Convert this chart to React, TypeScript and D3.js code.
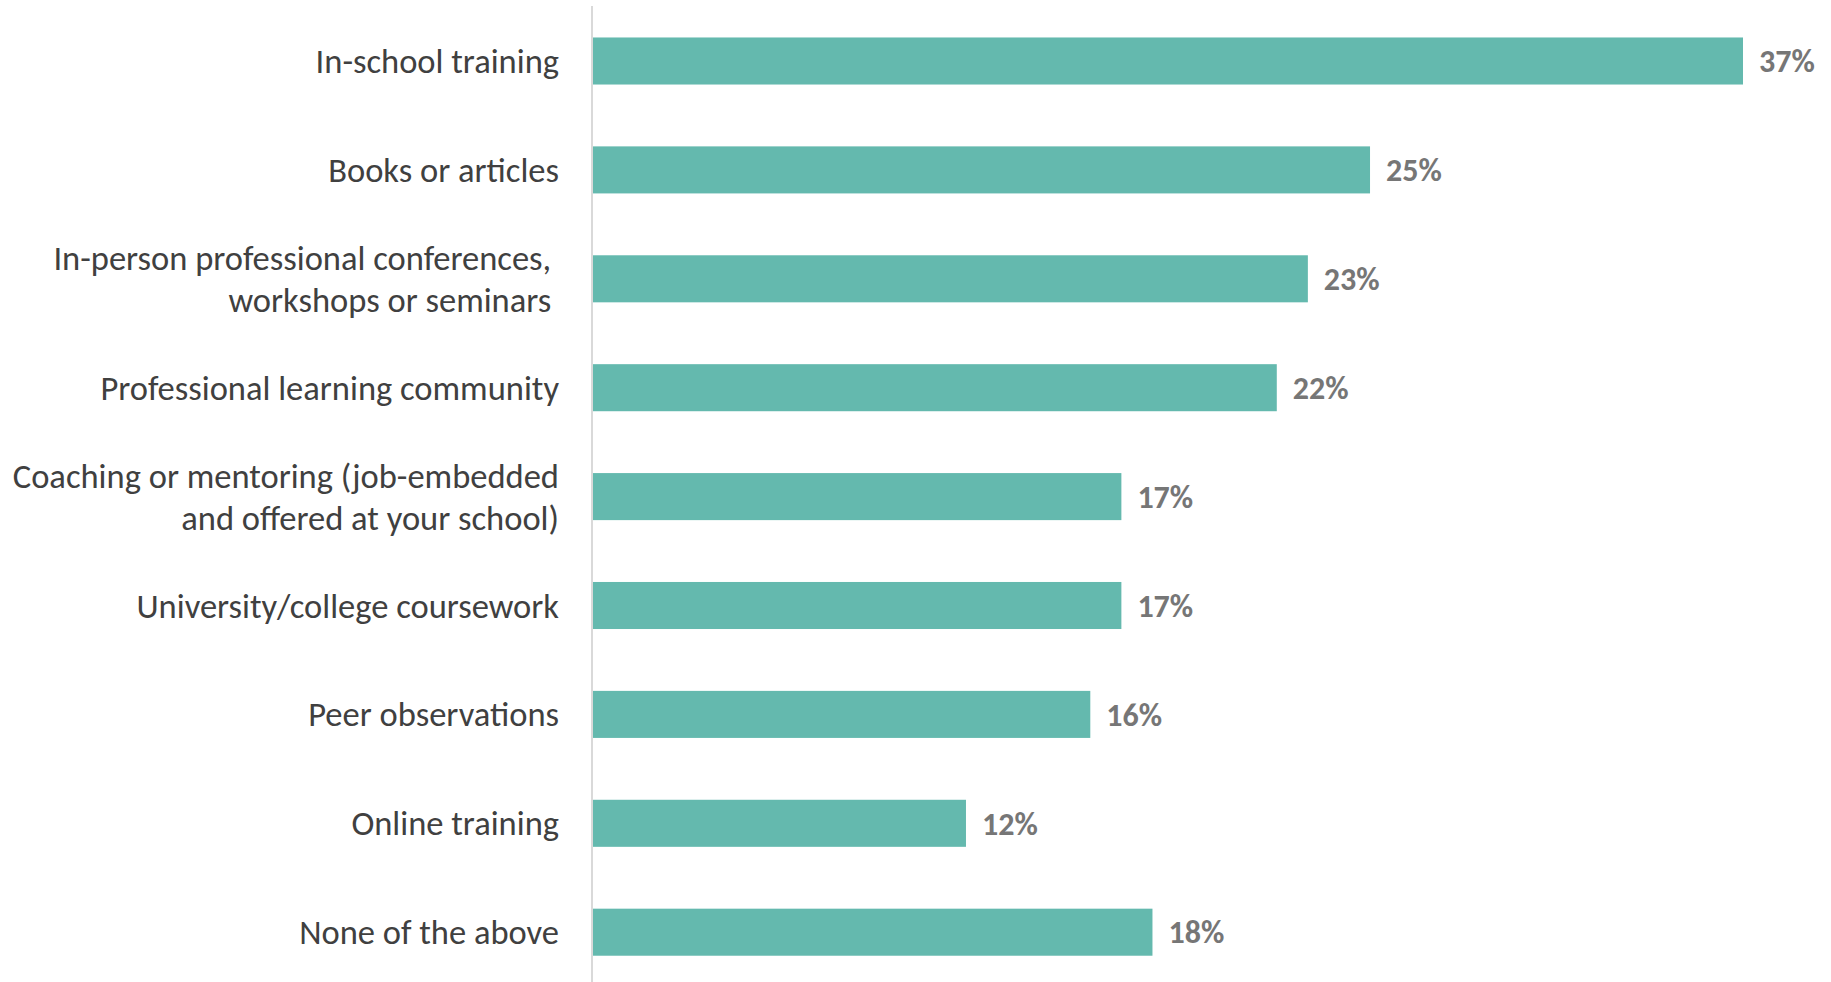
import React from "react";
import * as d3 from "d3";

const categories: string[][] = [
  ["In-school training"],
  ["Books or articles"],
  ["In-person professional conferences, ", "workshops or seminars "],
  ["Professional learning community"],
  ["Coaching or mentoring (job-embedded", "and offered at your school)"],
  ["University/college coursework"],
  ["Peer observations"],
  ["Online training"],
  ["None of the above"],
];
const values: number[] = [37, 25, 23, 22, 17, 17, 16, 12, 18];
const keys = categories.map((c) => c.join(" "));

const W = 1831;
const H = 982;
const FONT = "Carlito, Calibri, Lato, 'Open Sans', sans-serif";

export default function App() {
  const x = d3.scaleLinear().domain([0, 37]).range([593, 1743]);
  const step = 108.9;
  const r0 = 61 - step / 2;
  const y = d3
    .scaleBand<string>()
    .domain(keys)
    .range([r0, r0 + step * keys.length])
    .paddingInner(0.568)
    .paddingOuter(0.284);
  const bw = y.bandwidth();
  const lineH = 42;

  return (
    <svg
      width={W}
      height={H}
      style={{ position: "absolute", left: 0, top: 0, background: "#fff" }}
    >
      <line x1={592} x2={592} y1={6} y2={H} stroke="#d9d9d9" strokeWidth={2} />
      {keys.map((k, i) => {
        const yc = (y(k) as number) + bw / 2;
        const lines = categories[i];
        const v = values[i];
        return (
          <g key={k}>
            <rect
              x={x(0)}
              y={y(k)}
              width={x(v) - x(0)}
              height={bw}
              fill="#64B9AE"
            />
            <text
              x={x(v) + 16}
              y={yc}
              dy="0.35em"
              fontFamily={FONT}
              fontWeight="bold"
              fontSize={32}
              fill="#767676"
            >
              {v}%
            </text>
            <text
              textAnchor="end"
              fontFamily={FONT}
              fontSize={34.5}
              fill="#404040"
              style={{ whiteSpace: "pre" }}
            >
              {lines.map((l, j) => (
                <tspan
                  key={j}
                  x={559}
                  y={yc + (j - (lines.length - 1) / 2) * lineH}
                  dy="0.35em"
                >
                  {l}
                </tspan>
              ))}
            </text>
          </g>
        );
      })}
    </svg>
  );
}
